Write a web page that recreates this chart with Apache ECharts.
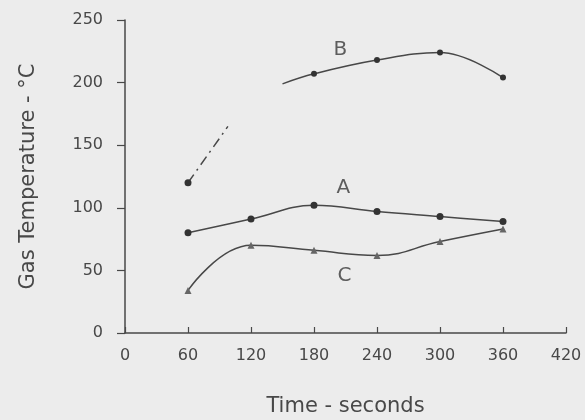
<!DOCTYPE html>
<html>
<head>
<meta charset="utf-8">
<script src="https://cdn.jsdelivr.net/npm/echarts@6/dist/echarts.min.js"></script>
<style>
html,body{margin:0;padding:0;background:#ececec;}
#c{width:585px;height:420px;}
</style>
</head>
<body>
<div id="c"></div>
<script>
// Data
var timesA = [60, 120, 180, 240, 300, 360];
var valuesA = [80, 91, 102, 97, 93, 89];
var timesC = [60, 120, 180, 240, 300, 360];
var valuesC = [34, 70, 66, 62, 73, 83];
// Curve B: early dashed segment, then solid curve
var bDashT = [60, 98];
var bDashV = [120, 165];
var bDashMarked = [true, false];
var bLineT = [150, 180, 240, 300, 360];
var bLineV = [199, 207, 218, 224, 204];
var bLineMarked = [false, true, true, true, true];
// Curve labels
var labelNames = ['A', 'B', 'C'];
var labelT = [208, 205, 209];
var labelV = [116, 226, 46];
// Axis ticks
var xTicks = [0, 60, 120, 180, 240, 300, 360, 420];
var yTicks = [0, 50, 100, 150, 200, 250];

var ink = '#484848';
var font = 'DejaVu Sans';

function pairs(t, v) { return t.map(function (x, i) { return [x, v[i]]; }); }
function marked(t, v, m) {
  return t.map(function (x, i) {
    return { value: [x, v[i]], symbol: m[i] ? 'circle' : 'none' };
  });
}

var chart = echarts.init(document.getElementById('c'));
chart.setOption({
  backgroundColor: '#ececec',
  animation: false,
  grid: { left: 125, right: 19, top: 20, bottom: 87, containLabel: false, outerBoundsMode: 'none' },
  xAxis: {
    type: 'value', min: xTicks[0], max: xTicks[xTicks.length - 1], interval: 60,
    name: 'Time - seconds', nameLocation: 'middle', nameGap: 63,
    nameTextStyle: { fontFamily: font, fontSize: 21, color: ink },
    axisLine: { lineStyle: { color: ink, width: 1.5 } },
    axisTick: { inside: true, length: 6, lineStyle: { color: ink, width: 1.2 } },
    axisLabel: { margin: 15, fontFamily: font, fontSize: 16, color: ink },
    splitLine: { show: false }
  },
  yAxis: {
    type: 'value', min: yTicks[0], max: yTicks[yTicks.length - 1], interval: 50,
    name: 'Gas Temperature - °C', nameLocation: 'middle', nameGap: 86,
    nameTextStyle: { fontFamily: font, fontSize: 21, color: ink },
    axisLine: { show: true, lineStyle: { color: ink, width: 1.5 } },
    axisTick: { show: true, length: 8, lineStyle: { color: ink, width: 1.2 } },
    axisLabel: { margin: 22, fontFamily: font, fontSize: 16, color: ink },
    splitLine: { show: false }
  },
  series: [
    {
      type: 'line', data: pairs(timesA, valuesA), smooth: 0.4,
      symbol: 'circle', symbolSize: 7,
      lineStyle: { color: ink, width: 1.5 }, itemStyle: { color: '#333' }
    },
    {
      type: 'line', data: pairs(timesC, valuesC), smooth: 0.45,
      symbol: 'triangle', symbolSize: 7,
      lineStyle: { color: ink, width: 1.5 }, itemStyle: { color: '#666' }
    },
    {
      type: 'line', data: marked(bDashT, bDashV, bDashMarked),
      symbolSize: 7,
      lineStyle: { color: ink, width: 1.5, type: [10, 5, 2, 5] }, itemStyle: { color: '#333' }
    },
    {
      type: 'line', data: marked(bLineT, bLineV, bLineMarked), smooth: 0.4,
      symbolSize: 6,
      lineStyle: { color: ink, width: 1.5 }, itemStyle: { color: '#333' }
    },
    {
      type: 'scatter', symbolSize: 0,
      data: labelNames.map(function (n, i) { return { name: n, value: [labelT[i], labelV[i]] }; }),
      label: { show: true, position: 'inside', formatter: '{b}', fontFamily: font, fontSize: 20, color: '#3a3a3a' }
    }
  ]
});
</script>
</body>
</html>
